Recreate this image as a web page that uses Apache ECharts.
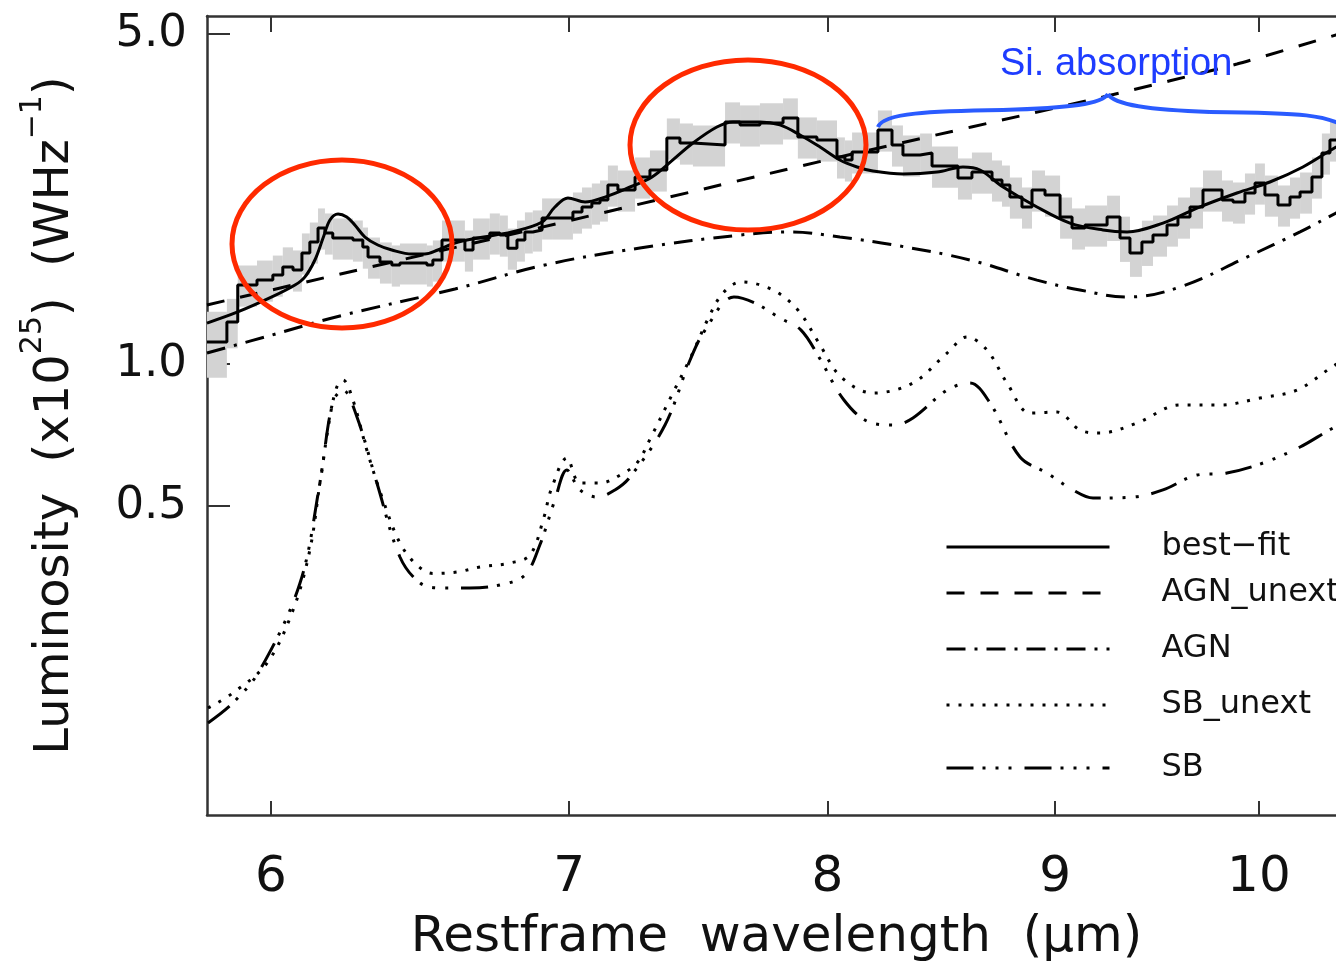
<!DOCTYPE html>
<html>
<head>
<meta charset="utf-8">
<script src="https://cdn.jsdelivr.net/npm/echarts@6/dist/echarts.min.js"></script>
<style>
html,body{margin:0;padding:0;background:#fff;}
#chart{width:1336px;height:970px;}
</style>
</head>
<body>
<div id="chart"></div>
<script>
// ---------------- data ----------------
const xTickValues = [6, 7, 8, 9, 10];
const yTickValues = [0.5, 1.0, 5.0];

// observed spectrum: bin edges (um) and binned luminosity (1e25 W/Hz)
const binEdges = [5.805,5.865,5.898,5.957,6.006,6.037,6.069,6.097,6.122,6.148,6.170,6.195,6.260,6.292,6.309,6.348,6.387,6.414,6.504,6.524,6.555,6.599,6.633,6.661,6.719,6.754,6.782,6.814,6.842,6.870,6.903,6.942,7.014,7.047,7.083,7.113,7.142,7.179,7.243,7.299,7.363,7.413,7.463,7.588,7.647,7.726,7.819,7.879,7.957,8.040,8.073,8.103,8.212,8.272,8.319,8.393,8.445,8.559,8.621,8.711,8.756,8.792,8.847,8.893,8.953,9.023,9.079,9.140,9.245,9.307,9.355,9.413,9.467,9.536,9.590,9.650,9.715,9.811,9.867,9.928,9.980,10.031,10.099,10.162,10.215,10.278,10.331,10.374,10.455];
const fluxValues = [1.113,1.227,1.470,1.506,1.543,1.606,1.582,1.719,1.813,1.942,1.895,1.849,1.831,1.769,1.685,1.645,1.621,1.637,1.621,1.661,1.831,1.831,1.744,1.849,1.895,1.876,1.760,1.831,1.905,1.923,2.039,2.039,2.099,2.151,2.193,2.226,2.394,2.337,2.490,2.577,3.012,2.939,2.911,3.258,3.210,3.242,3.322,3.027,2.983,2.746,2.706,2.813,3.132,2.911,2.772,2.799,2.627,2.478,2.551,2.454,2.394,2.258,2.151,2.337,2.280,2.048,1.942,1.970,2.048,1.849,1.719,1.813,1.876,1.970,2.048,2.151,2.337,2.226,2.204,2.303,2.418,2.280,2.172,2.258,2.314,2.490,2.799,2.983];
const fluxErr = [0.16,0.12,0.10,0.10,0.10,0.10,0.10,0.10,0.10,0.10,0.10,
                 0.10,0.10,0.10,0.10,0.10,0.10,0.10,0.10,0.10,0.10,0.10,
                 0.10,0.10,0.10,0.10,0.10,0.10,0.10,0.10,0.10,0.10,0.10,
                 0.10,0.10,0.10,0.10,0.10,0.10,0.10,0.10,0.10,0.10,0.10,
                 0.10,0.10,0.10,0.10,0.10,0.10,0.10,0.10,0.10,0.10,0.10,
                 0.10,0.10,0.10,0.10,0.10,0.10,0.10,0.10,0.10,0.10,0.10,
                 0.10,0.10,0.11,0.11,0.11,0.11,0.10,0.10,0.10,0.10,0.10,
                 0.10,0.10,0.10,0.10,0.10,0.10,0.10,0.10,0.10,0.10,0.10];

// best-fit model
const fitWave = [5.805,5.898,6.003,6.075,6.106,6.138,6.164,6.186,6.212,6.240,6.266,6.299,6.341,6.387,6.454,6.497,6.541,6.599,6.678,6.796,6.903,6.949,6.996,7.058,7.131,7.216,7.307,7.386,7.463,7.556,7.619,7.726,7.806,7.888,7.970,8.052,8.124,8.191,8.319,8.467,8.581,8.657,8.761,8.916,9.069,9.225,9.341,9.516,9.685,9.887,10.057,10.230,10.407,10.46];
const fitLum  = [1.221,1.289,1.387,1.470,1.528,1.661,1.849,2.019,2.079,2.048,1.970,1.858,1.787,1.744,1.710,1.710,1.744,1.805,1.849,1.905,1.999,2.151,2.248,2.204,2.258,2.360,2.490,2.706,2.939,3.178,3.258,3.258,3.210,3.057,2.882,2.706,2.615,2.564,2.527,2.551,2.615,2.577,2.371,2.151,1.989,1.923,1.905,1.989,2.140,2.303,2.430,2.615,2.882,2.939];

// AGN unextincted (power law)
const agnUnextWave = [5.805,6.754,8.052,9.225,9.887,10.407,10.46];
const agnUnextLum  = [1.334,1.858,2.746,3.679,4.321,4.979,5.03];

// AGN (extincted)
const agnWave = [5.805,6.003,6.218,6.599,6.913,7.261,7.647,7.847,8.052,8.306,8.612,8.916,9.116,9.341,9.600,9.938,10.215,10.407,10.46];
const agnLum  = [1.055,1.152,1.264,1.442,1.621,1.761,1.876,1.905,1.858,1.778,1.661,1.506,1.435,1.387,1.456,1.685,1.905,2.089,2.14];

// starburst unextincted
const sbUnextWave = [5.808,5.883,5.988,6.069,6.122,6.154,6.186,6.208,6.228,6.260,6.305,6.358,6.414,6.470,6.524,6.606,6.685,6.789,6.860,6.910,6.935,6.992,7.040,7.116,7.187,7.250,7.303,7.386,7.455,7.525,7.580,7.651,7.778,7.879,7.965,8.057,8.191,8.362,8.511,8.599,8.688,8.779,8.884,9.009,9.116,9.211,9.389,9.600,9.801,10.006,10.199,10.401,10.46];
const sbUnextLum  = [0.1867,0.2009,0.2325,0.3010,0.4036,0.5598,0.7721,0.8940,0.9249,0.8389,0.6574,0.5150,0.4176,0.3752,0.3600,0.3625,0.3714,0.3788,0.3939,0.4742,0.5410,0.6322,0.5598,0.5598,0.5818,0.6169,0.7004,0.8681,1.035,1.258,1.414,1.492,1.435,1.302,1.108,0.9385,0.8681,0.9115,1.055,1.141,1.071,0.9115,0.7873,0.7911,0.7247,0.7141,0.7499,0.8188,0.8188,0.8472,0.8808,0.9951,1.02];

// starburst (extincted)
const sbWave = [5.808,5.883,5.966,6.091,6.154,6.195,6.228,6.273,6.338,6.414,6.481,6.548,6.650,6.754,6.842,6.895,6.949,6.992,7.040,7.102,7.168,7.224,7.356,7.452,7.510,7.623,7.706,7.806,7.892,7.965,8.069,8.174,8.281,8.362,8.511,8.612,8.702,8.838,8.962,9.083,9.178,9.370,9.516,9.685,9.836,10.021,10.215,10.401,10.46];
const sbLum  = [0.1736,0.1913,0.2247,0.3436,0.5600,0.8300,0.8808,0.7721,0.5598,0.3901,0.3436,0.3353,0.3353,0.3403,0.3572,0.4136,0.5150,0.5962,0.5410,0.5226,0.5410,0.5761,0.7426,1.020,1.180,1.387,1.347,1.252,1.180,1.035,0.8389,0.7536,0.7426,0.7684,0.8808,0.9115,0.8269,0.6353,0.5875,0.5410,0.5200,0.5226,0.5410,0.5818,0.5875,0.6169,0.6671,0.7354,0.745];

const legendNames = ['best\u2212fit', 'AGN_unext', 'AGN', 'SB_unext', 'SB'];

// ---------------- build ----------------
const zip = (a, b) => a.map((x, i) => [x, b[i]]);
const stepData = fluxValues.map((v, i) => [binEdges[i], v]);
stepData.push([binEdges[binEdges.length - 1], fluxValues[fluxValues.length - 1]]);
const bandData = fluxValues.map((v, i) => [binEdges[i], binEdges[i + 1], v * (1 - fluxErr[i]), v * (1 + fluxErr[i])]);

const DASH = [18, 16];
const DASHDOT = [19, 9, 3, 9];
const DOT = [3, 9];
const DASH3DOT = [27, 9, 3, 10, 3, 10, 3, 13];
const FONT = 'DejaVu Sans';
const AX = '#333';
const LW = 3;

const X_MIN = 5.805, X_MAX = 10.4605, Y_MIN = 0.1108, Y_MAX = 5.4616;

function lineSeries(name, data, dash, smooth) {
  return {
    name: name, type: 'line', data: data, symbol: 'none', showSymbol: false,
    smooth: smooth, color: '#000', clip: true, z: 3,
    lineStyle: { color: '#000', width: LW, type: dash }
  };
}

const legendTops = [531, 577, 633, 689, 752];

const option = {
  animation: false,
  backgroundColor: '#fff',
  grid: { left: 207, top: 16, right: -10, bottom: 155, containLabel: false, outerBoundsMode: 'none' },
  xAxis: [{
    type: 'log', logBase: 10, min: X_MIN, max: X_MAX, position: 'bottom',
    axisLine: { show: true, onZero: false, lineStyle: { color: AX, width: 2.5 } },
    axisTick: { show: true, inside: true, length: 14, customValues: xTickValues, lineStyle: { color: AX, width: 2 } },
    minorTick: { show: false }, splitLine: { show: false }, minorSplitLine: { show: false },
    axisLabel: { show: true, customValues: xTickValues, formatter: v => String(Math.round(v)),
      fontFamily: FONT, fontSize: 50, color: '#111', margin: 38 },
    name: 'Restframe  wavelength  (\u03bcm)', nameLocation: 'middle', nameGap: 98, nameMoveOverlap: false,
    nameTextStyle: { fontFamily: FONT, fontSize: 50, color: '#111' }
  }, {
    type: 'log', logBase: 10, min: X_MIN, max: X_MAX, position: 'top',
    axisLine: { show: true, onZero: false, lineStyle: { color: AX, width: 2.5 } },
    axisTick: { show: true, inside: true, length: 16, customValues: xTickValues, lineStyle: { color: AX, width: 2 } },
    minorTick: { show: false }, splitLine: { show: false },
    axisLabel: { show: false }
  }],
  yAxis: {
    type: 'log', logBase: 10, min: Y_MIN, max: Y_MAX,
    axisLine: { show: true, onZero: false, lineStyle: { color: AX, width: 2.5 } },
    axisTick: { show: true, inside: true, length: 23, customValues: yTickValues, lineStyle: { color: AX, width: 2 } },
    minorTick: { show: false }, splitLine: { show: false }, minorSplitLine: { show: false },
    axisLabel: { show: true, customValues: yTickValues, formatter: v => Number(v).toFixed(1),
      fontFamily: FONT, fontSize: 45, color: '#111', margin: 20 },
    name: '{n|Luminosity  (x10}{s|25}{n|)  (WHz}{s|\u22121}{n|)}',
    nameLocation: 'middle', nameRotate: 90, nameGap: 113, nameMoveOverlap: false,
    nameTextStyle: {
      fontFamily: FONT, fontSize: 48, color: '#111',
      rich: {
        n: { fontFamily: FONT, fontSize: 48, color: '#111', lineHeight: 76 },
        s: { fontFamily: FONT, fontSize: 30, color: '#111', verticalAlign: 'top', lineHeight: 30 }
      }
    }
  },
  legend: legendNames.map((nm, i) => ({
    data: [nm], left: 945, top: legendTops[i], orient: 'vertical', padding: 0,
    itemWidth: 163, itemHeight: 20, selectedMode: false,
    itemStyle: { opacity: 0, borderWidth: 0 },
    lineStyle: { width: LW },
    textStyle: { fontFamily: FONT, fontSize: 32, color: '#111', padding: [0, 0, 0, 47] }
  })),
  series: [
    {
      name: 'data band', type: 'custom', data: bandData, clip: true, z: 1, silent: true,
      renderItem: function (params, api) {
        const p0 = api.coord([api.value(0), api.value(3)]);
        const p1 = api.coord([api.value(1), api.value(2)]);
        return { type: 'rect',
          shape: { x: p0[0], y: p0[1], width: p1[0] - p0[0], height: p1[1] - p0[1] },
          style: { fill: '#d3d3d3' } };
      }
    },
    {
      name: 'data', type: 'line', data: stepData, step: 'end', symbol: 'none', color: '#000', z: 2, clip: true,
      lineStyle: { color: '#000', width: LW }
    },
    lineSeries(legendNames[0], zip(fitWave, fitLum), 'solid', 0.35),
    lineSeries(legendNames[1], zip(agnUnextWave, agnUnextLum), DASH, 0.2),
    lineSeries(legendNames[2], zip(agnWave, agnLum), DASHDOT, 0.4),
    lineSeries(legendNames[3], zip(sbUnextWave, sbUnextLum), DOT, 0.35),
    lineSeries(legendNames[4], zip(sbWave, sbLum), DASH3DOT, 0.35)
  ],
  graphic: [
    { type: 'ellipse', z: 100, shape: { cx: 342, cy: 244, rx: 110, ry: 84 },
      style: { fill: 'none', stroke: '#ff2a00', lineWidth: 5 } },
    { type: 'ellipse', z: 100, shape: { cx: 748, cy: 145, rx: 118, ry: 85 },
      style: { fill: 'none', stroke: '#ff2a00', lineWidth: 5 } },
    { type: 'bezierCurve', z: 100, shape: { x1: 878, y1: 127, cpx1: 883, cpy1: 113, cpx2: 930, cpy2: 111, x2: 1003, y2: 110 },
      style: { fill: 'none', stroke: '#2a5bff', lineWidth: 4 } },
    { type: 'bezierCurve', z: 100, shape: { x1: 1003, y1: 110, cpx1: 1070, cpy1: 108, cpx2: 1102, cpy2: 104, x2: 1108, y2: 94 },
      style: { fill: 'none', stroke: '#2a5bff', lineWidth: 4 } },
    { type: 'bezierCurve', z: 100, shape: { x1: 1108, y1: 94, cpx1: 1114, cpy1: 105, cpx2: 1150, cpy2: 110, x2: 1210, y2: 112 },
      style: { fill: 'none', stroke: '#2a5bff', lineWidth: 4 } },
    { type: 'bezierCurve', z: 100, shape: { x1: 1210, y1: 112, cpx1: 1300, cpy1: 113, cpx2: 1330, cpy2: 114, x2: 1350, y2: 130 },
      style: { fill: 'none', stroke: '#2a5bff', lineWidth: 4 } },
    { type: 'text', z: 101, x: 1000, y: 65,
      style: { text: 'Si. absorption', fontFamily: 'Liberation Sans', fontSize: 38, fill: '#1e3cff', verticalAlign: 'middle', align: 'left' } }
  ]
};

const chart = echarts.init(document.getElementById('chart'), null, { renderer: 'canvas' });
chart.setOption(option);
</script>
</body>
</html>
